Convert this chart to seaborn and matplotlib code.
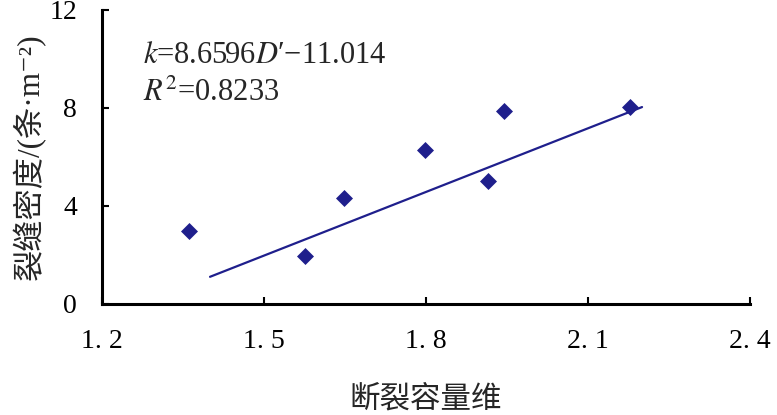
import matplotlib
matplotlib.use("Agg")
import matplotlib.pyplot as plt
import seaborn as sns
import pandas as pd

# fracture capacity dimension vs fracture density
dim_values = [1.361, 1.576, 1.649, 1.799, 1.914, 1.944, 2.178]
density_values = [2.99, 1.96, 4.33, 6.29, 5.03, 7.88, 8.05]

# fitted line k = 8.6596 D' - 11.014
slope = 8.6596
intercept = -11.014
fit_x = [1.40, 2.20]

x_ticks = [1.2, 1.5, 1.8, 2.1, 2.4]
x_tick_labels = ["1. 2", "1. 5", "1. 8", "2. 1", "2. 4"]
y_ticks = [0, 4, 8, 12]

navy = "#1f1f8c"
serif = ["Liberation Serif", "Noto Sans CJK SC", "DejaVu Sans"]
cjk = ["Noto Sans CJK SC", "DejaVu Sans"]

sns.set_theme(style="ticks")
plt.rcParams["font.family"] = serif
plt.rcParams["mathtext.fontset"] = "stix"

df = pd.DataFrame({"dim": dim_values, "density": density_values})
fit_df = pd.DataFrame({"dim": fit_x, "density": [slope * x + intercept for x in fit_x]})

fig = plt.figure(figsize=(7.77, 4.15), dpi=100)
ax = fig.add_axes([0.1313, 0.2675, 0.834, 0.7085])

sns.lineplot(data=fit_df, x="dim", y="density", ax=ax, color=navy, linewidth=1.6)
sns.scatterplot(data=df, x="dim", y="density", ax=ax, marker="D", s=75,
                color=navy, linewidth=0, zorder=3)

ax.set_xlim(1.2, 2.4)
ax.set_ylim(0, 12)
ax.set_xticks(x_ticks)
ax.set_xticklabels(x_tick_labels)
ax.set_yticks(y_ticks)
ax.tick_params(direction="in", length=5, width=1.5, labelsize=20, pad=18,
               colors="black")
for lab in ax.get_xticklabels() + ax.get_yticklabels():
    lab.set_family(serif)

sns.despine(ax=ax)
for side in ["left", "bottom"]:
    ax.spines[side].set_linewidth(2.2)
    ax.spines[side].set_color("black")

ax.set_xlabel("断裂容量维", family=cjk, fontsize=22, labelpad=21)
ax.set_ylabel("裂缝密度/(条·m⁻²)", family=serif, fontsize=22.5, labelpad=2)

ax.text(0.063, 0.818, r"$k$=8.6596$D$′−11.014", transform=ax.transAxes,
        fontsize=22, family=serif, va="baseline")
ax.text(0.063, 0.69, r"$R^2$=0.8233", transform=ax.transAxes,
        fontsize=22, family=serif, va="baseline")

fig.savefig("out.png", dpi=100)
